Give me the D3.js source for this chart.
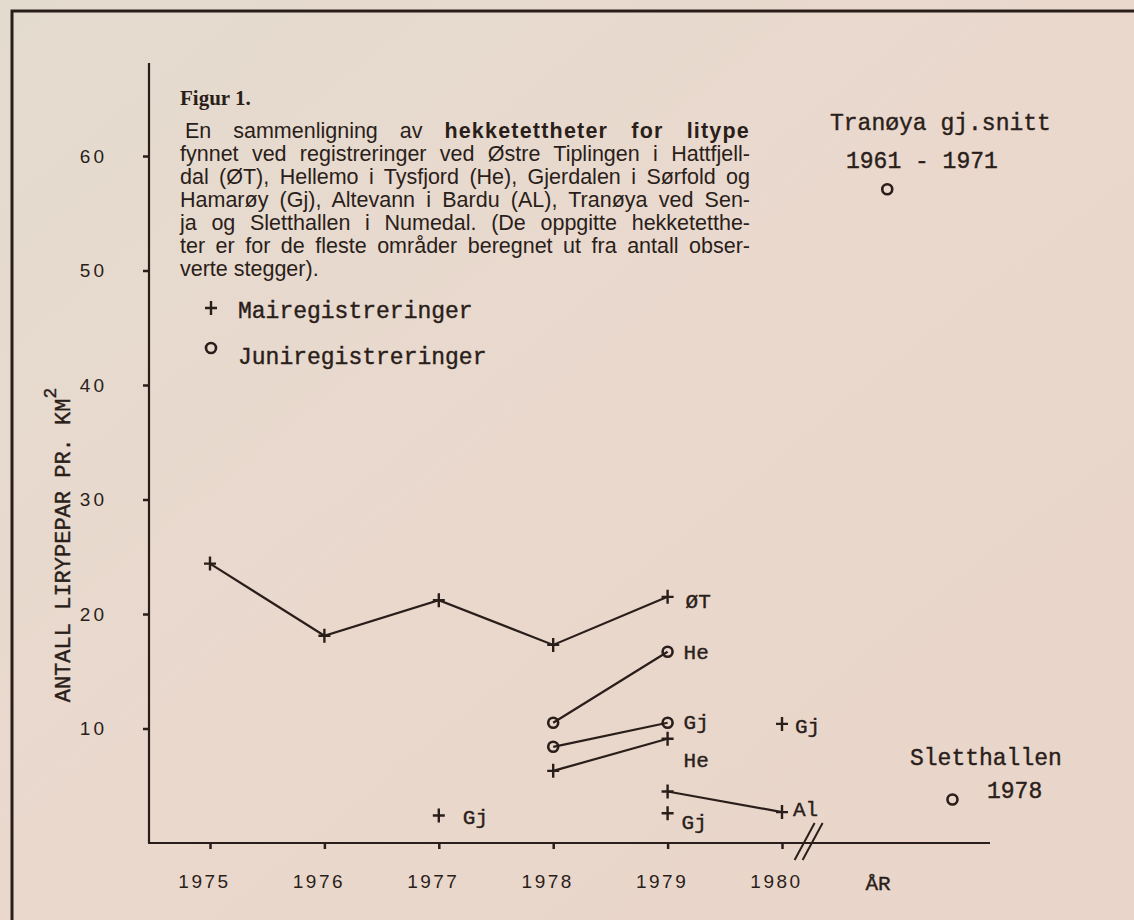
<!DOCTYPE html>
<html>
<head>
<meta charset="utf-8">
<script src="https://cdn.jsdelivr.net/npm/d3@7"></script>
<style>
  body { margin: 0; background: #e8d9ce; }
  svg { display: block; }
  .tw { stroke: #2a1e1a; stroke-width: 0.4px; }
</style>
</head>
<body>
<div id="chart"></div>
<script>
// data
var years = [1975, 1976, 1977, 1978, 1979, 1980];
var yTicks = [10, 20, 30, 40, 50, 60];

var otYears = [1975, 1976, 1977, 1978, 1979];
var otValues = [24.4, 18.1, 21.2, 17.3, 21.5];

var heJuniYears = [1978, 1979];
var heJuniValues = [10.5, 16.7];

var gjJuniYears = [1978, 1979];
var gjJuniValues = [8.4, 10.5];

var heMaiYears = [1978, 1979];
var heMaiValues = [6.3, 9.1];

var alYears = [1979, 1980];
var alValues = [4.5, 2.7];

var gjMaiYears = [1977, 1979, 1980];
var gjMaiValues = [2.4, 2.6, 10.4];

// off-scale reference points (right of the axis break)
var tranoyaPos = 1980.92, tranoyaValue = 57.1;
var slettPos = 1981.49, slettValue = 3.8;

var titleLines = [
  "fynnet ved registreringer ved Østre Tiplingen i Hattfjell-",
  "dal (ØT), Hellemo i Tysfjord (He), Gjerdalen i Sørfold og",
  "Hamarøy (Gj), Altevann i Bardu (AL), Tranøya ved Sen-",
  "ja og Sletthallen i Numedal. (De oppgitte hekketetthe-",
  "ter er for de fleste områder beregnet ut fra antall obser-",
  "verte stegger)."
];

var width = 1134, height = 920;
var ink = "#2a1e1a";
var mono = "'Liberation Mono', 'DejaVu Sans Mono', monospace";
var sans = "'Liberation Sans', Arial, sans-serif";

function zip(xs, vs) { return xs.map(function (d, i) { return { x: d, v: vs[i] }; }); }

var svg = d3.select("#chart").append("svg")
  .attr("width", width)
  .attr("height", height);

var defs = svg.append("defs");
var grad = defs.append("linearGradient").attr("id", "paper")
  .attr("x1", "0").attr("y1", "0").attr("x2", "1").attr("y2", "1");
grad.append("stop").attr("offset", "0").attr("stop-color", "#e4dbcf");
grad.append("stop").attr("offset", "0.5").attr("stop-color", "#ead8cd");
grad.append("stop").attr("offset", "1").attr("stop-color", "#e9d5ca");

svg.append("rect").attr("width", width).attr("height", height).attr("fill", "url(#paper)");

// frame of the printed page
svg.append("path")
  .attr("d", "M12,920 L12,11 L1134,11")
  .attr("fill", "none").attr("stroke", ink).attr("stroke-width", 3);

var x = d3.scaleLinear().domain([1975, 1980]).range([210, 782]);
var y = d3.scaleLinear().domain([0, 60]).range([843, 156]);

// axes
svg.append("line")
  .attr("x1", 149).attr("x2", 149).attr("y1", 63).attr("y2", y(0))
  .attr("stroke", ink).attr("stroke-width", 2.2);
svg.append("line")
  .attr("x1", 148).attr("x2", 990).attr("y1", y(0)).attr("y2", y(0))
  .attr("stroke", ink).attr("stroke-width", 2.2);

var yAxis = svg.append("g")
  .attr("transform", "translate(149,0)")
  .call(d3.axisLeft(y).tickValues(yTicks).tickSize(6).tickPadding(36));
yAxis.select(".domain").remove();
yAxis.selectAll("line").attr("stroke", ink).attr("stroke-width", 2.5);
yAxis.selectAll("text")
  .attr("fill", ink)
  .style("font-family", sans)
  .style("font-size", "19px")
  .style("letter-spacing", "3px");

var xAxis = svg.append("g")
  .attr("transform", "translate(0," + y(0) + ")")
  .call(d3.axisBottom(x).tickValues(years).tickSize(6).tickPadding(26).tickFormat(d3.format("d")));
xAxis.select(".domain").remove();
xAxis.selectAll("line").attr("stroke", ink).attr("stroke-width", 2.5);
xAxis.selectAll("text")
  .attr("fill", ink)
  .attr("dx", "-6")
  .style("font-family", sans)
  .style("font-size", "19px")
  .style("letter-spacing", "2.5px");

svg.append("text")
  .attr("class", "tw")
  .attr("x", 878).attr("y", 890)
  .attr("text-anchor", "middle")
  .attr("fill", ink)
  .style("font-family", mono).style("font-size", "21px")
  .text("ÅR");

// axis break
var bx = x(1980.25);
[-4, 4].forEach(function (o) {
  svg.append("line")
    .attr("x1", bx - 12 + o).attr("y1", y(0) + 17)
    .attr("x2", bx + 8 + o).attr("y2", y(0) - 20)
    .attr("stroke", ink).attr("stroke-width", 2);
});

// y label
var yl = svg.append("text")
  .attr("class", "tw")
  .attr("transform", "translate(70,545) rotate(-90)")
  .attr("text-anchor", "middle")
  .attr("fill", ink)
  .style("font-family", mono).style("font-size", "22px");
yl.append("tspan").text("ANTALL LIRYPEPAR PR. KM");
yl.append("tspan").attr("dy", "-14").style("font-size", "18px").text("2");

// caption
svg.append("text")
  .attr("x", 180).attr("y", 105)
  .attr("fill", ink)
  .style("font-family", "'Liberation Serif', 'DejaVu Serif', serif")
  .style("font-weight", "bold").style("font-size", "21px")
  .text("Figur 1.");

// justify a caption line to the given width: stretch word gaps, or squeeze glyphs
function justify(t, w) {
  var node = t.node();
  var gaps = (node.textContent.match(/ /g) || []).length;
  var extra = w - node.getComputedTextLength();
  if (extra > 0 && gaps > 0) t.style("word-spacing", (extra / gaps) + "px");
  else if (extra < 0) t.attr("textLength", w).attr("lengthAdjust", "spacingAndGlyphs");
}

var capSize = "21.5px";

var first = svg.append("text")
  .attr("x", 185).attr("y", 138)
  .attr("fill", ink)
  .style("font-family", sans).style("font-size", capSize);
first.append("tspan").text("En sammenligning av ");
first.append("tspan").style("font-weight", "bold").style("letter-spacing", "1.2px")
  .text("hekketettheter for litype");
justify(first, 565);

titleLines.forEach(function (d, i) {
  var t = svg.append("text")
    .attr("x", 180)
    .attr("y", 161 + i * 23)
    .attr("fill", ink)
    .style("font-family", sans).style("font-size", capSize)
    .text(d);
  if (i < titleLines.length - 1) justify(t, 570);
});

// markers
function plus(g, px, py) {
  g.append("path")
    .attr("d", "M" + (px - 6) + "," + py + "h12M" + px + "," + (py - 7) + "v14")
    .attr("stroke", ink).attr("stroke-width", 2.4).attr("fill", "none");
}
function ring(g, px, py) {
  g.append("circle").attr("cx", px).attr("cy", py).attr("r", 5)
    .attr("fill", "none").attr("stroke", ink).attr("stroke-width", 2.6);
}

var line = d3.line().x(function (d) { return x(d.x); }).y(function (d) { return y(d.v); });

var series = [
  { pts: zip(otYears, otValues), mark: plus, label: "ØT", dx: 18, dy: 11 },
  { pts: zip(heJuniYears, heJuniValues), mark: ring, label: "He", dx: 16, dy: 7 },
  { pts: zip(gjJuniYears, gjJuniValues), mark: ring, label: "Gj", dx: 16, dy: 6 },
  { pts: zip(heMaiYears, heMaiValues), mark: plus, label: "He", dx: 16, dy: 28 },
  { pts: zip(alYears, alValues), mark: plus, label: "Al", dx: 11, dy: 4 }
];

var plot = svg.append("g");
series.forEach(function (s) {
  plot.append("path").datum(s.pts)
    .attr("d", line)
    .attr("fill", "none").attr("stroke", ink).attr("stroke-width", 2.2);
  s.pts.forEach(function (p) { s.mark(plot, x(p.x), y(p.v)); });
  var last = s.pts[s.pts.length - 1];
  plot.append("text")
    .attr("class", "tw")
    .attr("x", x(last.x) + s.dx).attr("y", y(last.v) + s.dy)
    .attr("fill", ink)
    .style("font-family", mono).style("font-size", "21px")
    .text(s.label);
});

// single May points for Gj
var gjOffsets = [[24, 8], [14, 16], [13, 9]];
zip(gjMaiYears, gjMaiValues).forEach(function (p, i) {
  plus(plot, x(p.x), y(p.v));
  plot.append("text")
    .attr("class", "tw")
    .attr("x", x(p.x) + gjOffsets[i][0]).attr("y", y(p.v) + gjOffsets[i][1])
    .attr("fill", ink)
    .style("font-family", mono).style("font-size", "21px")
    .text("Gj");
});

// Tranøya and Sletthallen
ring(plot, x(tranoyaPos), y(tranoyaValue));
ring(plot, x(slettPos), y(slettValue));

function note(tx, ty, str) {
  svg.append("text").attr("class", "tw").attr("x", tx).attr("y", ty)
    .attr("fill", ink)
    .style("font-family", mono).style("font-size", "23px")
    .text(str);
}
note(830, 130, "Tranøya gj.snitt");
note(846, 168, "1961 - 1971");
note(910, 765, "Sletthallen");
note(987, 798, "1978");

// legend
plus(svg, 211, 308);
note(238, 318, "Mairegistreringer");
ring(svg, 211, 348);
note(238, 364, "Juniregistreringer");
</script>
</body>
</html>
